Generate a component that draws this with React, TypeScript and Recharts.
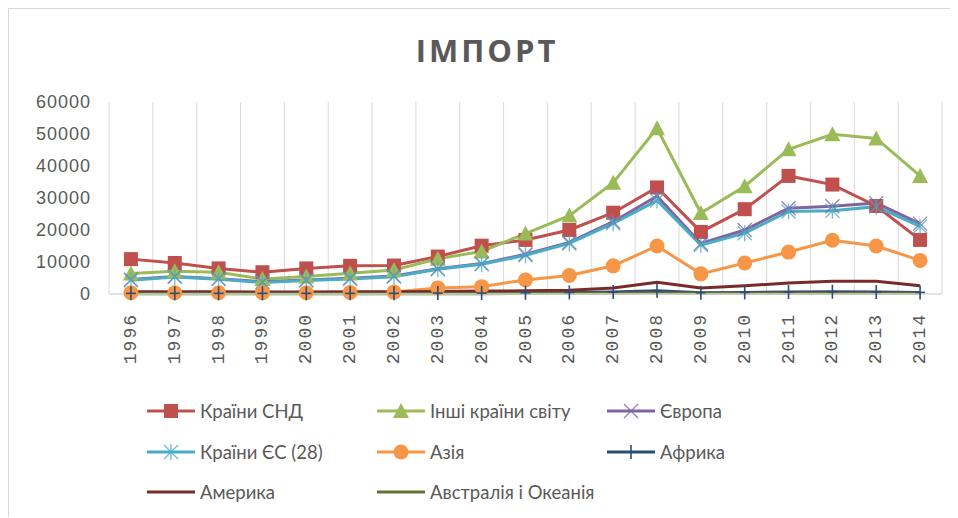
import React from 'react';
import { LineChart, Line, XAxis, YAxis, CartesianGrid, Legend } from 'recharts';

const YEARS = [1996, 1997, 1998, 1999, 2000, 2001, 2002, 2003, 2004, 2005, 2006, 2007, 2008, 2009, 2010, 2011, 2012, 2013, 2014];

const CIS = [10900, 9700, 8000, 6800, 8000, 8800, 8900, 11700, 15100, 16900, 20000, 25400, 33300, 19400, 26500, 36900, 34200, 27500, 16900];
const OTHER = [6400, 7100, 6800, 4700, 5500, 6500, 7500, 11000, 13300, 18900, 24500, 34800, 51800, 25300, 33700, 45200, 49900, 48600, 36900];
const EUROPE = [4500, 5500, 4800, 3800, 4400, 4900, 5600, 7900, 9500, 12400, 16100, 22600, 30600, 15800, 20000, 26800, 27400, 28400, 22000];
const EU28 = [4300, 5300, 4600, 3600, 4200, 4700, 5400, 7700, 9300, 12100, 15800, 22100, 29200, 15300, 19000, 25800, 26000, 27300, 21100];
const ASIA = [400, 400, 400, 400, 400, 500, 600, 1900, 2300, 4400, 5800, 8800, 15000, 6300, 9700, 13100, 16800, 15000, 10500];
const AFRICA = [200, 200, 200, 200, 200, 200, 200, 300, 300, 400, 500, 600, 1000, 400, 500, 600, 700, 600, 500];
const AMERICA = [700, 700, 700, 600, 600, 700, 700, 800, 900, 1000, 1200, 1900, 3700, 1900, 2600, 3400, 4000, 4000, 2600];
const AUSTRALIA = [100, 100, 100, 100, 100, 100, 100, 100, 100, 200, 200, 200, 300, 200, 200, 200, 200, 200, 200];

const Y_TICKS = [0, 10000, 20000, 30000, 40000, 50000, 60000];

const SERIES = [
  { key: 'cis', name: 'Країни СНД', color: '#C0504D', marker: 'square', values: CIS },
  { key: 'other', name: 'Інші країни світу', color: '#9BBB59', marker: 'triangle', values: OTHER },
  { key: 'europe', name: 'Європа', color: '#8064A2', marker: 'cross', values: EUROPE },
  { key: 'eu', name: 'Країни ЄС (28)', color: '#4BACC6', marker: 'star', values: EU28 },
  { key: 'asia', name: 'Азія', color: '#F79646', marker: 'circle', values: ASIA },
  { key: 'africa', name: 'Африка', color: '#2C4D75', marker: 'plus', values: AFRICA },
  { key: 'america', name: 'Америка', color: '#772C2A', marker: 'none', values: AMERICA },
  { key: 'australia', name: 'Австралія і Океанія', color: '#5F7530', marker: 'none', values: AUSTRALIA },
];

const data = YEARS.map((year, i) => {
  const row: Record<string, number> = { year };
  SERIES.forEach((s) => {
    row[s.key] = s.values[i];
  });
  return row;
});

const BOUNDS = [...YEARS.map((y) => y - 0.5), YEARS[YEARS.length - 1] + 0.5];

function Marker({ type, color, cx, cy }: { type: string; color: string; cx: number; cy: number }) {
  if (type === 'square') {
    return <rect x={cx - 7} y={cy - 7} width={14} height={14} fill={color} />;
  }
  if (type === 'triangle') {
    return <polygon points={`${cx},${cy - 8} ${cx + 8},${cy + 7} ${cx - 8},${cy + 7}`} fill={color} />;
  }
  if (type === 'circle') {
    return <circle cx={cx} cy={cy} r={7.5} fill={color} />;
  }
  if (type === 'cross') {
    return (
      <g stroke={color} strokeWidth={1.3} opacity={0.8}>
        <line x1={cx - 7} y1={cy - 7} x2={cx + 7} y2={cy + 7} />
        <line x1={cx - 7} y1={cy + 7} x2={cx + 7} y2={cy - 7} />
      </g>
    );
  }
  if (type === 'star') {
    return (
      <g stroke={color} strokeWidth={1.3} opacity={0.8}>
        <line x1={cx - 7} y1={cy - 7} x2={cx + 7} y2={cy + 7} />
        <line x1={cx - 7} y1={cy + 7} x2={cx + 7} y2={cy - 7} />
        <line x1={cx} y1={cy - 8} x2={cx} y2={cy + 8} />
      </g>
    );
  }
  if (type === 'plus') {
    return (
      <g stroke={color} strokeWidth={1.6}>
        <line x1={cx} y1={cy - 7} x2={cx} y2={cy + 7} />
        <line x1={cx - 5} y1={cy} x2={cx + 5} y2={cy} />
      </g>
    );
  }
  return null;
}

const XTick = (props: any) => {
  const { x, y, payload } = props;
  return (
    <text
      transform={`translate(${x},${y}) rotate(-90)`}
      textAnchor="end"
      dominantBaseline="central"
      fill="#595959"
      fontSize={18}
      letterSpacing={2}
      fontFamily="'Liberation Mono', monospace"
    >
      {payload.value}
    </text>
  );
};

const LegendContent = () => (
  <div
    style={{
      display: 'grid',
      gridTemplateColumns: '230px 230px 230px',
      gridAutoRows: '40.5px',
      paddingLeft: 137,
      paddingTop: 17,
      fontFamily: 'Lato, sans-serif',
      fontSize: 18.5,
      color: '#595959',
    }}
  >
    {SERIES.map((s) => (
      <div key={s.key} style={{ display: 'flex', alignItems: 'center', height: 40, whiteSpace: 'nowrap' }}>
        <svg width={50} height={20} style={{ marginRight: 4 }}>
          <line x1={1} y1={10} x2={49} y2={10} stroke={s.color} strokeWidth={3} />
          <Marker type={s.marker} color={s.color} cx={25} cy={10} />
        </svg>
        <span>{s.name}</span>
      </div>
    ))}
  </div>
);

export default function App() {
  return (
    <div
      style={{
        position: 'relative',
        width: 948,
        height: 508,
        borderTop: '2px solid #d9d9d9',
        borderLeft: '2px solid #d9d9d9',
        marginTop: -1,
        marginLeft: -1,
        background: '#fff',
      }}
    >
      <div
        style={{
          position: 'absolute',
          left: 0,
          top: 21,
          width: 956,
          textAlign: 'center',
          fontFamily: "'Open Sans', sans-serif",
          fontWeight: 700,
          fontSize: 31,
          lineHeight: '40px',
          letterSpacing: 3,
          color: '#595959',
        }}
      >
        ІМПОРТ
      </div>
      <LineChart width={948} height={500} data={data} margin={{ top: 93, right: 15, left: 0, bottom: 0 }}>
        <CartesianGrid
          horizontal={false}
          stroke="#d9d9d9"
          verticalCoordinatesGenerator={({ xAxis, offset }: any) =>
            BOUNDS.map((b) =>
              xAxis && typeof xAxis.scale === 'function'
                ? xAxis.scale(b)
                : offset.left + ((b - BOUNDS[0]) / (BOUNDS[BOUNDS.length - 1] - BOUNDS[0])) * offset.width
            )
          }
        />
        <XAxis
          dataKey="year"
          type="number"
          domain={[BOUNDS[0], BOUNDS[BOUNDS.length - 1]]}
          ticks={YEARS}
          interval={0}
          height={80}
          tickLine={false}
          tickSize={0}
          tickMargin={19}
          axisLine={{ stroke: '#d9d9d9', strokeWidth: 1.5 }}
          tick={<XTick />}
        />
        <YAxis
          width={100}
          domain={[0, 60000]}
          ticks={Y_TICKS}
          axisLine={false}
          tickLine={false}
          tickSize={0}
          tickMargin={18}
          tick={{ fill: '#595959', fontSize: 18, fontFamily: "'Liberation Sans', sans-serif", letterSpacing: 1 }}
        />
        <Legend
          verticalAlign="bottom"
          height={135}
          content={<LegendContent />}
          wrapperStyle={{ left: 0, bottom: 0, width: 948, height: 135 }}
        />
        {SERIES.map((s) => (
          <Line
            key={s.key}
            dataKey={s.key}
            name={s.name}
            stroke={s.color}
            strokeWidth={3}
            isAnimationActive={false}
            dot={(p: any) => (
              <g key={`${s.key}-${p.index}`}>
                <Marker type={s.marker} color={s.color} cx={p.cx} cy={p.cy} />
              </g>
            )}
            activeDot={false}
          />
        ))}
      </LineChart>
    </div>
  );
}
